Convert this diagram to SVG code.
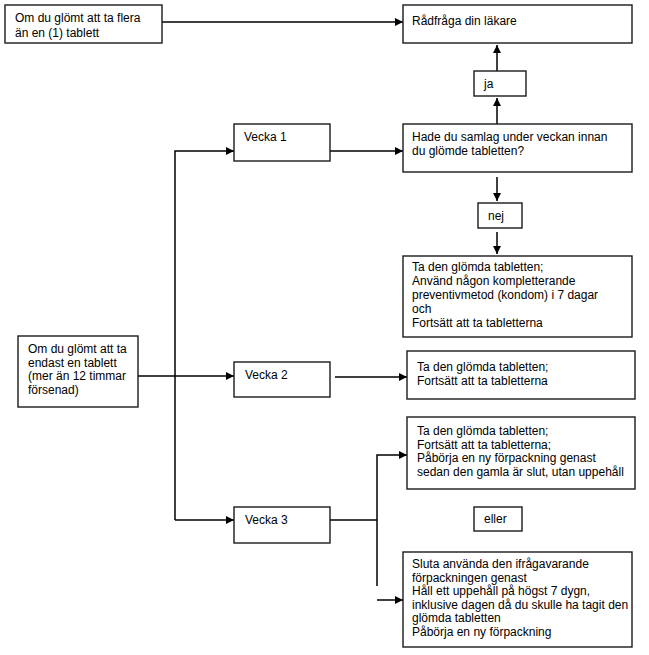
<svg xmlns="http://www.w3.org/2000/svg" width="649" height="655" viewBox="0 0 649 655">
<defs>
<marker id="ah" markerUnits="userSpaceOnUse" markerWidth="9" markerHeight="9" refX="8" refY="4" orient="auto">
<path d="M0,0 L8,4 L0,8 z" fill="#000"/>
</marker>
<style>
rect.b{fill:#fff;stroke:#1a1a1a;stroke-width:1.4}
text{font-family:"Liberation Sans",Arial,sans-serif;font-size:12px;fill:#000}
.c line,.c polyline{stroke:#000;stroke-width:1.5;fill:none}
.a{marker-end:url(#ah)}
</style>
</defs>
<rect width="649" height="655" fill="#fff"/>
<g class="c" id="connectors">
<line class="a" x1="162" y1="22" x2="403" y2="22"/>
<line class="a" x1="497" y1="71" x2="497" y2="45"/>
<line class="a" x1="497" y1="124" x2="497" y2="98"/>
<polyline class="a" points="175,520 175,151 234,151"/>
<line class="a" x1="330" y1="151" x2="403" y2="151"/>
<line class="a" x1="497" y1="177" x2="497" y2="201"/>
<line class="a" x1="497" y1="232" x2="497" y2="254"/>
<line class="a" x1="138" y1="376" x2="234" y2="376"/>
<line class="a" x1="335" y1="377" x2="407" y2="377"/>
<polyline class="a" points="175,520 234,520"/>
<line x1="330" y1="520" x2="377" y2="520"/>
<polyline class="a" points="377,586 377,455 407,455"/>
<line class="a" x1="377" y1="600" x2="403" y2="600"/>
</g>
<g id="n_flera">
<rect class="b" x="5" y="5" width="157" height="38"/>
<text x="15" y="22">Om du glömt att ta flera</text>
<text x="15" y="37">än en (1) tablett</text>
</g>
<g id="n_radfraga">
<rect class="b" x="403" y="5" width="229" height="38"/>
<text x="412" y="25">Rådfråga din läkare</text>
</g>
<g id="n_ja">
<rect class="b" x="474" y="71" width="52" height="25"/>
<text x="484" y="88">ja</text>
</g>
<g id="n_vecka1">
<rect class="b" x="234" y="124" width="96" height="37"/>
<text x="244" y="141">Vecka 1</text>
</g>
<g id="n_hade">
<rect class="b" x="403" y="124" width="229" height="48"/>
<text x="412" y="141">Hade du samlag under veckan innan</text>
<text x="412" y="155">du glömde tabletten?</text>
</g>
<g id="n_nej">
<rect class="b" x="478" y="203" width="44" height="25"/>
<text x="488" y="220">nej</text>
</g>
<g id="n_v1action">
<rect class="b" x="403" y="256" width="229" height="81"/>
<text x="412" y="271">Ta den glömda tabletten;</text>
<text x="412" y="285">Använd någon kompletterande</text>
<text x="412" y="299">preventivmetod (kondom) i 7 dagar</text>
<text x="412" y="313">och</text>
<text x="412" y="327">Fortsätt att ta tabletterna</text>
</g>
<g id="n_endast">
<rect class="b" x="18" y="336" width="120" height="71"/>
<text x="28" y="353">Om du glömt att ta</text>
<text x="28" y="367">endast en tablett</text>
<text x="28" y="380">(mer än 12 timmar</text>
<text x="28" y="394">försenad)</text>
</g>
<g id="n_vecka2">
<rect class="b" x="234" y="362" width="96" height="35"/>
<text x="245" y="379">Vecka 2</text>
</g>
<g id="n_v2action">
<rect class="b" x="407" y="351" width="228" height="48"/>
<text x="417" y="371">Ta den glömda tabletten;</text>
<text x="417" y="385">Fortsätt att ta tabletterna</text>
</g>
<g id="n_v3a">
<rect class="b" x="407" y="417" width="228" height="72"/>
<text x="417" y="435">Ta den glömda tabletten;</text>
<text x="417" y="449">Fortsätt att ta tabletterna;</text>
<text x="417" y="462">Påbörja en ny förpackning genast</text>
<text x="417" y="476">sedan den gamla är slut, utan uppehåll</text>
</g>
<g id="n_vecka3">
<rect class="b" x="234" y="507" width="96" height="36"/>
<text x="245" y="524">Vecka 3</text>
</g>
<g id="n_eller">
<rect class="b" x="474" y="507" width="48" height="24"/>
<text x="484" y="523">eller</text>
</g>
<g id="n_v3b">
<rect class="b" x="403" y="552" width="229" height="95"/>
<text x="412" y="568">Sluta använda den ifrågavarande</text>
<text x="412" y="582">förpackningen genast</text>
<text x="412" y="595">Håll ett uppehåll på högst 7 dygn,</text>
<text x="412" y="609">inklusive dagen då du skulle ha tagit den</text>
<text x="412" y="622">glömda tabletten</text>
<text x="412" y="636">Påbörja en ny förpackning</text>
</g>
</svg>
